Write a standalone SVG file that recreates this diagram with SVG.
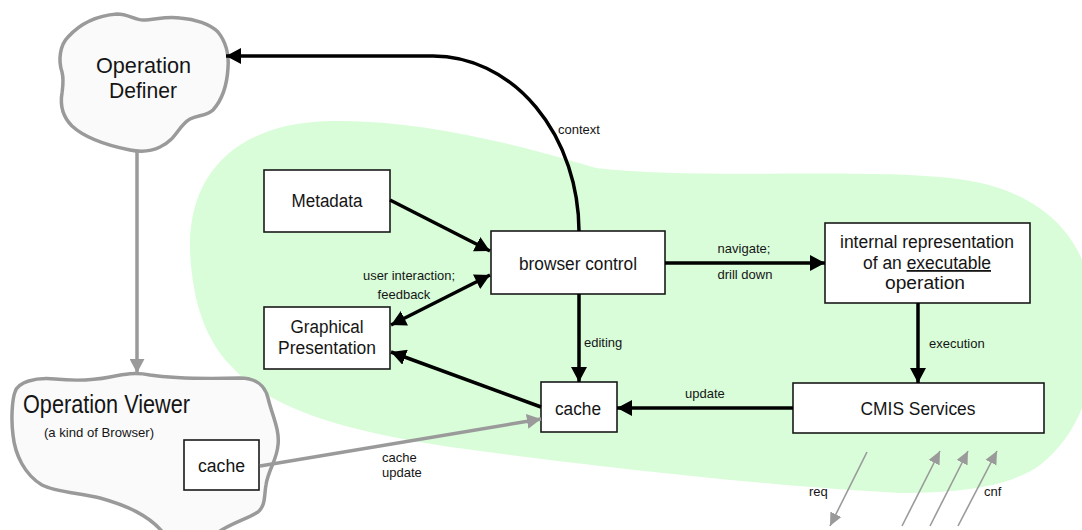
<svg xmlns="http://www.w3.org/2000/svg" width="1082" height="530" viewBox="0 0 1082 530">
<style>
text{font-family:"Liberation Sans",Arial,sans-serif;fill:#151515}
.box{fill:#fff;stroke:#1a1a1a;stroke-width:1.6}
.cloud{fill:#fafafa;stroke:#9a9a9a;stroke-width:3.5}
.n{font-size:18px;text-anchor:middle}
.s{font-size:13px}
.sm{font-size:13px;text-anchor:middle}
.blk{fill:none;stroke:#000;stroke-width:3.5}
.gry{fill:none;stroke:#9a9a9a;stroke-width:3.5}
.thin{fill:none;stroke:#9a9a9a;stroke-width:1.6}
</style>
<defs>
<marker id="ab" viewBox="0 0 16 16" refX="15" refY="8" markerWidth="16" markerHeight="16" markerUnits="userSpaceOnUse" orient="auto-start-reverse"><path d="M0,0 L15,8 L0,16 z" fill="#000"/></marker>
<marker id="ag" viewBox="0 0 16 16" refX="15" refY="8" markerWidth="15" markerHeight="15" markerUnits="userSpaceOnUse" orient="auto"><path d="M0,0 L15,8 L0,16 z" fill="#9a9a9a"/></marker>
<marker id="at" viewBox="0 0 16 16" refX="15" refY="8" markerWidth="14" markerHeight="14" markerUnits="userSpaceOnUse" orient="auto"><path d="M0,1 L15,8 L0,15 z" fill="#9a9a9a"/></marker>
</defs>

<path id="region" fill="#d9fdd9" d="M190,250 C188,170 240,123 330,121 C420,119 520,145 596,168 C700,180 850,168 950,178 C1030,186 1070,225 1085,267 L1090,300 L1090,385 C1080,420 1065,445 1040,465 C1010,487 960,493 900,493 C760,486 560,462 450,447 C350,432 270,410 232,367 C205,340 192,300 190,250 Z"/>

<g id="operation-definer">
<path class="cloud" d="M117,14 C128,14 135,20 143,20 C155,20 165,16 180,18 C195,19 210,24 218,32 C226,42 229,55 228,68 C227,85 222,100 213,110 C207,116 198,115 190,119 C178,126 176,140 160,147 C150,152 140,152 130,150 C110,146 85,138 72,126 C62,116 60,105 62,93 C63,85 64,80 62,72 C58,60 60,45 68,37 C78,26 92,16 117,14 Z"/>
<text x="143.5" y="73" font-size="22" text-anchor="middle" textLength="95" lengthAdjust="spacingAndGlyphs">Operation</text>
<text x="143" y="98" font-size="22" text-anchor="middle" textLength="68" lengthAdjust="spacingAndGlyphs">Definer</text>
</g>

<g id="operation-viewer">
<path class="cloud" d="M15,392 C18,382 35,377 55,379 C75,381 95,380 110,377 C125,374 135,372 150,375 C170,378 200,379 240,378 C255,378 265,385 268,398 C272,415 280,430 278,445 C277,460 268,470 266,485 C264,495 266,505 258,512 C245,520 225,525 215,535 L165,535 C150,515 125,505 100,498 C80,493 55,492 42,485 C25,475 15,455 13,435 C11,420 12,400 15,392 Z"/>
<text x="23" y="413" font-size="26" textLength="167" lengthAdjust="spacingAndGlyphs">Operation Viewer</text>
<text x="44" y="437" font-size="13" textLength="110" lengthAdjust="spacingAndGlyphs">(a kind of Browser)</text>
</g>

<g id="viewer-cache">
<rect class="box" x="184" y="440" width="75" height="50" stroke="#888"/>
<text class="n" x="221.5" y="472" font-size="20" textLength="47" lengthAdjust="spacingAndGlyphs">cache</text>
</g>

<g id="metadata">
<rect class="box" x="264" y="170" width="126" height="62"/>
<text class="n" x="327" y="207" textLength="71" lengthAdjust="spacingAndGlyphs">Metadata</text>
</g>

<g id="graphical-presentation">
<rect class="box" x="264" y="307" width="126" height="62"/>
<text class="n" x="327" y="333" textLength="73" lengthAdjust="spacingAndGlyphs">Graphical</text>
<text class="n" x="327" y="354" textLength="98" lengthAdjust="spacingAndGlyphs">Presentation</text>
</g>

<g id="browser-control">
<rect class="box" x="491" y="231" width="174" height="63"/>
<text class="n" x="578" y="270" textLength="118" lengthAdjust="spacingAndGlyphs">browser control</text>
</g>

<g id="internal-representation">
<rect class="box" x="825" y="223" width="205" height="80"/>
<text class="n" x="927" y="248" textLength="174" lengthAdjust="spacingAndGlyphs">internal representation</text>
<text class="n" x="927" y="269" textLength="128" lengthAdjust="spacingAndGlyphs">of an <tspan text-decoration="underline">executable</tspan></text>
<text class="n" x="925" y="289" textLength="80" lengthAdjust="spacingAndGlyphs">operation</text>
</g>

<g id="cache">
<rect class="box" x="541" y="382" width="76" height="50"/>
<text class="n" x="578" y="415" textLength="46" lengthAdjust="spacingAndGlyphs">cache</text>
</g>

<g id="cmis-services">
<rect class="box" x="793" y="383" width="251" height="50"/>
<text class="n" x="918" y="415" textLength="115" lengthAdjust="spacingAndGlyphs">CMIS Services</text>
</g>

<g id="connectors">
<path class="blk" d="M579,231 A146,176 0 0 0 433,56 L226,56" marker-end="url(#ab)"/>
<text class="s" x="558" y="134">context</text>
<path class="blk" d="M390,200 L490,251" marker-end="url(#ab)"/>
<path class="blk" d="M391,325 L490,275" marker-start="url(#ab)" marker-end="url(#ab)"/>
<text class="sm" x="409" y="280" textLength="92" lengthAdjust="spacingAndGlyphs">user interaction;</text>
<text class="sm" x="404" y="299">feedback</text>
<path class="blk" d="M541,407 L391,352" marker-end="url(#ab)"/>
<path class="blk" d="M579,294 L579,382" marker-end="url(#ab)"/>
<text class="s" x="584" y="347">editing</text>
<path class="blk" d="M665,263 L825,263" marker-end="url(#ab)"/>
<text class="sm" x="744" y="253">navigate;</text>
<text class="sm" x="745" y="279">drill down</text>
<path class="blk" d="M918,303 L918,383" marker-end="url(#ab)"/>
<text class="s" x="929" y="348">execution</text>
<path class="blk" d="M793,408 L617,408" marker-end="url(#ab)"/>
<text class="s" x="685" y="398">update</text>
<path class="gry" d="M137,151 L137,373" marker-end="url(#ag)"/>
<path class="gry" d="M260,466 L541,419" marker-end="url(#ag)"/>
<text class="s" x="382" y="462">cache</text>
<text class="s" x="382" y="477">update</text>
<path class="thin" d="M867,452 L830,526" marker-end="url(#at)"/>
<path class="thin" d="M902,526 L940,451" marker-end="url(#at)"/>
<path class="thin" d="M930,526 L968,451" marker-end="url(#at)"/>
<path class="thin" d="M958,526 L997,451" marker-end="url(#at)"/>
<text class="s" x="809" y="496">req</text>
<text class="s" x="984" y="496">cnf</text>
</g>
</svg>
